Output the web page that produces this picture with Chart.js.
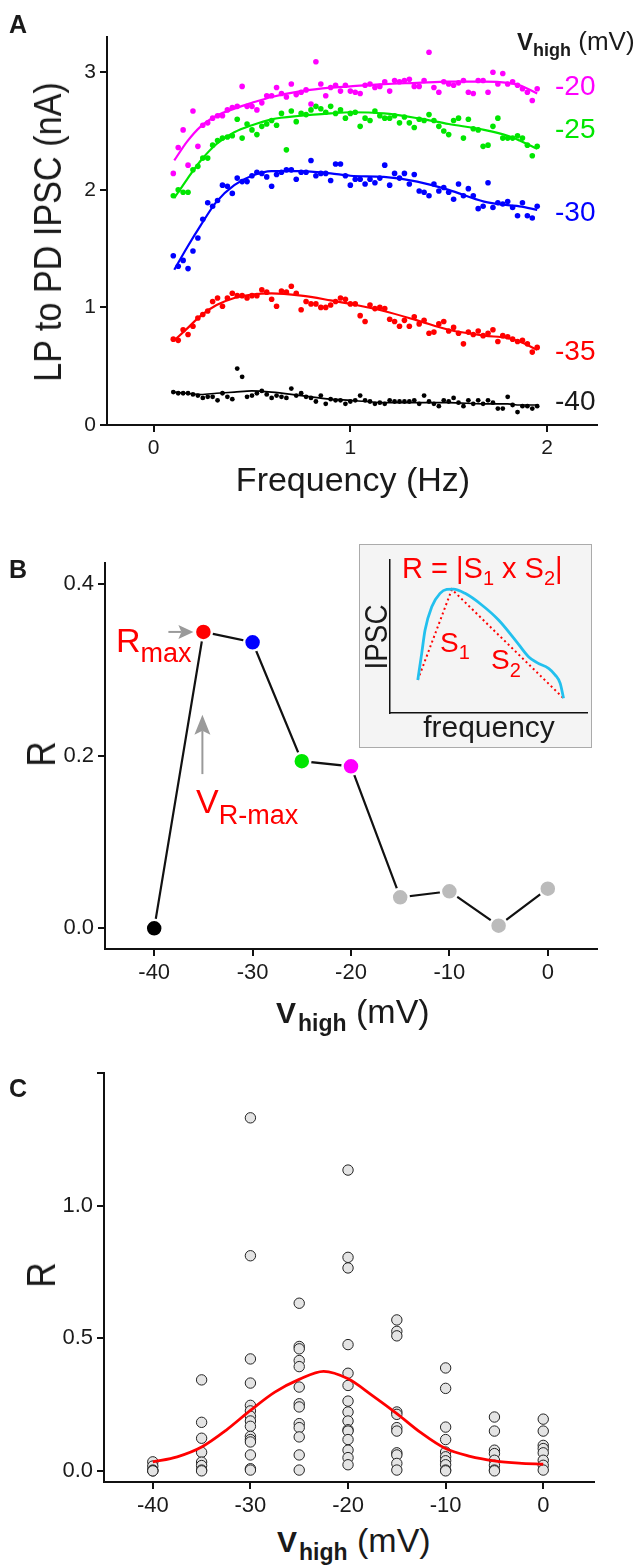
<!DOCTYPE html>
<html>
<head>
<meta charset="utf-8">
<script src="https://cdn.jsdelivr.net/npm/chart.js"></script>
<style>
  html, body { margin: 0; padding: 0; background: #fff; }
  #fig { position: relative; width: 636px; height: 1565px; overflow: hidden;
         font-family: "Liberation Sans", Arial, Helvetica, sans-serif; color: #1a1a1a; }
  canvas { position: absolute; left: 0; }
  .t { position: absolute; white-space: nowrap; line-height: 1; }
  .red { color: #ff0000; }
  #insetBox { position: absolute; left: 359px; top: 544px; width: 233px; height: 204px;
              background: #f4f4f4; border: 1.5px solid #ababab; box-sizing: border-box; }
</style>
</head>
<body>
<div id="fig">
  <canvas id="chartA" width="636" height="470" style="top:0"></canvas>
  <canvas id="chartB" width="636" height="470" style="top:530px"></canvas>
  <canvas id="chartC" width="636" height="480" style="top:1040px"></canvas>
  <div id="insetBox"></div>
  <canvas id="chartInset" width="233" height="204" style="left:359px;top:544px"></canvas>

  <!-- panel letters -->
  <div class="t" style="left:9px;top:12px;font-size:25px;font-weight:bold">A</div>
  <div class="t" style="left:9px;top:557px;font-size:25px;font-weight:bold">B</div>
  <div class="t" style="left:9px;top:1076px;font-size:25px;font-weight:bold">C</div>

  <!-- panel A titles -->
  <div class="t" style="left:48px;top:232px;font-size:38px;transform:translate(-50%,-50%) rotate(-90deg) scaleX(0.9)">LP to PD IPSC (nA)</div>
  <div class="t" style="left:353px;top:462px;font-size:34px;transform:translateX(-50%)">Frequency (Hz)</div>
  <div class="t" style="left:517px;top:28px;font-size:26px"><b style="font-size:24px">V</b><b style="font-size:18px;position:relative;top:6px">high</b> (mV)</div>
  <div class="t" style="left:555px;top:72px;font-size:28px;color:#ff00ff">-20</div>
  <div class="t" style="left:555px;top:115px;font-size:28px;color:#00e600">-25</div>
  <div class="t" style="left:555px;top:198px;font-size:28px;color:#0000ff">-30</div>
  <div class="t" style="left:555px;top:337px;font-size:28px;color:#ff0000">-35</div>
  <div class="t" style="left:555px;top:387px;font-size:28px">-40</div>

  <!-- panel B titles and notes -->
  <div class="t" style="left:41px;top:754px;font-size:40px;transform:translate(-50%,-50%) rotate(-90deg) scaleX(0.88)">R</div>
  <div class="t" style="left:276px;top:994px;font-size:34px"><b style="font-size:30px">V</b><b style="font-size:23px;position:relative;top:8px;margin-left:2px">high</b> (mV)</div>
  <div class="t red" style="left:116px;top:623px;font-size:34px">R<span style="font-size:27px;position:relative;top:10px">max</span></div>
  <div class="t red" style="left:196px;top:784px;font-size:34px">V<span style="font-size:27px;position:relative;top:11px">R-max</span></div>

  <!-- inset texts -->
  <div class="t red" style="left:402px;top:554px;font-size:29px">R = |S<span style="font-size:20px;position:relative;top:7px">1</span> x S<span style="font-size:20px;position:relative;top:7px">2</span>|</div>
  <div class="t red" style="left:440px;top:629px;font-size:28px">S<span style="font-size:20px;position:relative;top:7px">1</span></div>
  <div class="t red" style="left:491px;top:646px;font-size:28px">S<span style="font-size:20px;position:relative;top:8px">2</span></div>
  <div class="t" style="left:376px;top:637px;font-size:32px;transform:translate(-50%,-50%) rotate(-90deg) scaleX(0.87)">IPSC</div>
  <div class="t" style="left:489px;top:712px;font-size:30px;transform:translateX(-50%)">frequency</div>

  <!-- panel C titles -->
  <div class="t" style="left:41px;top:1275px;font-size:40px;transform:translate(-50%,-50%) rotate(-90deg) scaleX(0.88)">R</div>
  <div class="t" style="left:277px;top:1523px;font-size:34px"><b style="font-size:30px">V</b><b style="font-size:23px;position:relative;top:8px;margin-left:2px">high</b> (mV)</div>
</div>

<script>
// ---------- panel A: IPSC vs frequency ----------
const freqA = [0.1, 0.125, 0.15, 0.175, 0.2, 0.225, 0.25, 0.275, 0.3, 0.325,
  0.35, 0.375, 0.4, 0.425, 0.45, 0.475, 0.5, 0.525, 0.55, 0.575,
  0.6, 0.625, 0.65, 0.675, 0.7, 0.725, 0.75, 0.775, 0.8, 0.825,
  0.85, 0.875, 0.9, 0.925, 0.95, 0.975, 1.0, 1.025, 1.05, 1.075,
  1.1, 1.125, 1.15, 1.175, 1.2, 1.225, 1.25, 1.275, 1.3, 1.325,
  1.35, 1.375, 1.4, 1.425, 1.45, 1.475, 1.5, 1.525, 1.55, 1.575,
  1.6, 1.625, 1.65, 1.675, 1.7, 1.725, 1.75, 1.775, 1.8, 1.825,
  1.85, 1.875, 1.9, 1.925, 1.95];

const ipscM20 = [2.14, 2.36, 2.51, 2.21, 2.67, 2.37, 2.55, 2.57, 2.61, 2.63,
  2.63, 2.68, 2.70, 2.71, 2.88, 2.71, 2.71, 2.68, 2.74, 2.80,
  2.80, 2.87, 2.82, 2.79, 2.90, 2.81, 2.83, 2.85, 2.73, 3.09,
  2.90, 2.80, 2.87, 2.89, 2.84, 2.89, 2.84, 2.83, 2.82, 2.89,
  2.90, 2.87, 2.88, 2.92, 2.84, 2.93, 2.92, 2.93, 2.94, 2.88,
  2.88, 2.93, 3.17, 2.87, 2.83, 2.92, 2.90, 2.89, 2.91, 2.93,
  2.83, 2.82, 2.93, 2.93, 2.83, 3.00, 2.90, 2.99, 2.90, 2.92,
  2.89, 2.86, 2.83, 2.76, 2.86];
const ipscM25 = [1.95, 2.00, 1.98, 1.98, 2.17, 2.20, 2.27, 2.27, 2.38, 2.42,
  2.44, 2.45, 2.46, 2.60, 2.44, 2.56, 2.51, 2.47, 2.54, 2.56,
  2.59, 2.55, 2.65, 2.34, 2.67, 2.58, 2.65, 2.64, 2.68, 2.71,
  2.69, 2.66, 2.71, 2.65, 2.68, 2.61, 2.65, 2.66, 2.54, 2.61,
  2.59, 2.67, 2.63, 2.61, 2.61, 2.63, 2.57, 2.62, 2.57, 2.53,
  2.60, 2.59, 2.64, 2.59, 2.54, 2.50, 2.47, 2.59, 2.61, 2.44,
  2.60, 2.52, 2.51, 2.37, 2.38, 2.54, 2.61, 2.44, 2.44, 2.44,
  2.46, 2.44, 2.38, 2.29, 2.37];
const ipscM30 = [1.44, 1.35, 1.40, 1.33, 1.48, 1.59, 1.75, 1.89, 1.86, 1.91,
  2.04, 2.03, 1.97, 2.10, 2.07, 2.07, 2.12, 2.15, 2.14, 2.11,
  2.03, 2.13, 2.15, 2.17, 2.17, 2.09, 2.15, 2.15, 2.25, 2.12,
  2.14, 2.14, 2.08, 2.22, 2.22, 2.12, 2.04, 2.09, 2.09, 2.05,
  2.09, 2.06, 2.10, 2.21, 2.04, 2.14, 2.10, 2.14, 2.05, 2.13,
  1.99, 1.98, 1.95, 2.05, 1.99, 2.02, 1.98, 1.92, 2.05, 1.95,
  2.01, 1.95, 1.84, 1.86, 2.06, 1.85, 1.89, 1.88, 1.90, 1.85,
  1.78, 1.89, 1.78, 1.76, 1.86];
const ipscM35 = [0.73, 0.72, 0.81, 0.77, 0.84, 0.91, 0.94, 0.97, 1.05, 1.08,
  1.01, 1.08, 1.12, 1.10, 1.10, 1.08, 1.10, 1.10, 1.15, 1.13,
  1.07, 1.01, 1.14, 1.13, 1.18, 1.12, 0.98, 1.05, 1.03, 1.03,
  1.00, 1.00, 1.02, 1.05, 1.08, 1.07, 1.03, 1.03, 0.93, 0.88,
  1.02, 0.99, 1.00, 0.99, 0.90, 0.88, 0.84, 0.89, 0.84, 0.92,
  0.86, 0.89, 0.78, 0.79, 0.86, 0.88, 0.80, 0.83, 0.78, 0.69,
  0.79, 0.77, 0.80, 0.76, 0.78, 0.81, 0.71, 0.76, 0.75, 0.73,
  0.71, 0.72, 0.69, 0.62, 0.66];
const ipscM40 = [0.28, 0.27, 0.27, 0.27, 0.26, 0.25, 0.23, 0.24, 0.24, 0.21,
  0.27, 0.24, 0.22, 0.48, 0.41, 0.24, 0.25, 0.27, 0.29, 0.26,
  0.23, 0.25, 0.24, 0.23, 0.31, 0.25, 0.27, 0.24, 0.23, 0.20,
  0.25, 0.18, 0.22, 0.21, 0.21, 0.18, 0.20, 0.21, 0.25, 0.21,
  0.20, 0.18, 0.19, 0.18, 0.21, 0.20, 0.20, 0.20, 0.20, 0.21,
  0.18, 0.25, 0.20, 0.18, 0.16, 0.21, 0.20, 0.23, 0.19, 0.16,
  0.21, 0.18, 0.21, 0.18, 0.21, 0.19, 0.14, 0.14, 0.24, 0.17,
  0.11, 0.16, 0.16, 0.14, 0.16];

// smooth fitted curves, read at these frequencies
const fitFreqA = [0.105, 0.17, 0.24, 0.32, 0.41, 0.5, 0.6, 0.75, 0.9, 1.0, 1.17, 1.34, 1.5, 1.68, 1.8, 1.86, 1.95];
const fitM20 = [2.25, 2.41, 2.54, 2.63, 2.69, 2.74, 2.79, 2.84, 2.87, 2.88, 2.90, 2.91, 2.92, 2.92, 2.91, 2.89, 2.82];
const fitM25 = [1.93, 2.09, 2.25, 2.39, 2.49, 2.55, 2.60, 2.63, 2.65, 2.66, 2.65, 2.61, 2.56, 2.51, 2.46, 2.42, 2.35];
const fitM30 = [1.32, 1.51, 1.70, 1.90, 2.04, 2.12, 2.16, 2.16, 2.14, 2.12, 2.11, 2.07, 2.00, 1.90, 1.87, 1.86, 1.83];
const fitM35 = [0.72, 0.82, 0.93, 1.02, 1.08, 1.11, 1.12, 1.10, 1.06, 1.03, 0.97, 0.89, 0.81, 0.76, 0.74, 0.71, 0.64];
const fitM40 = [0.28, 0.27, 0.26, 0.27, 0.28, 0.29, 0.28, 0.25, 0.22, 0.21, 0.19, 0.19, 0.19, 0.18, 0.18, 0.17, 0.17];

const colorsA = ['#ff00ff', '#00e600', '#0000ff', '#ff0000', '#000000'];
const xTicksA = [0, 1, 2];
const yTicksA = [0, 1, 2, 3];

// ---------- panel B: R vs Vhigh (one prep) ----------
const vHighB = [-40, -35, -30, -25, -20, -15, -10, -5, 0];
const rB = [0.0, 0.344, 0.332, 0.194, 0.188, 0.036, 0.043, 0.003, 0.046];
const colorsB = ['#000000', '#ff0000', '#0000ff', '#00e600', '#ff00ff', '#bbbbbb', '#bbbbbb', '#bbbbbb', '#bbbbbb'];
const xTicksB = [-40, -30, -20, -10, 0];
const yTicksB = [0, 0.2, 0.4];

// inset schematic
const insetCurveX = [0.141, 0.161, 0.178, 0.212, 0.254, 0.288, 0.322, 0.381, 0.466, 0.551, 0.636, 0.703, 0.746, 0.805, 0.839, 0.864, 0.881];
const insetCurveY = [0.216, 0.39, 0.542, 0.695, 0.782, 0.808, 0.810, 0.782, 0.706, 0.608, 0.477, 0.368, 0.329, 0.292, 0.248, 0.194, 0.096];
const insetSlopeX = [0.141, 0.314, 0.881];
const insetSlopeY = [0.216, 0.808, 0.096];

// ---------- panel C: R vs Vhigh (all preps) ----------
const vHighC = [-40, -35, -30, -25, -20, -15, -10, -5, 0];
const rCm40 = [0.034, 0.018, 0.003, 0.0, 0.0];
const rCm35 = [0.343, 0.183, 0.123, 0.070, 0.033, 0.020, 0.003, 0.0];
const rCm30 = [1.331, 0.811, 0.422, 0.331, 0.247, 0.226, 0.206, 0.188, 0.168, 0.130, 0.118, 0.109, 0.060, 0.008, 0.003];
const rCm25 = [0.632, 0.469, 0.460, 0.416, 0.393, 0.316, 0.253, 0.241, 0.178, 0.163, 0.128, 0.060, 0.003];
const rCm20 = [1.134, 0.805, 0.765, 0.476, 0.368, 0.322, 0.263, 0.222, 0.188, 0.155, 0.150, 0.118, 0.078, 0.050, 0.023];
const rCm15 = [0.569, 0.526, 0.509, 0.222, 0.213, 0.163, 0.150, 0.068, 0.060, 0.028, 0.003];
const rCm10 = [0.388, 0.311, 0.165, 0.118, 0.071, 0.053, 0.038, 0.023, 0.003, 0.0];
const rCm5 = [0.203, 0.150, 0.078, 0.065, 0.040, 0.021, 0.003, 0.0];
const rC0 = [0.195, 0.150, 0.096, 0.084, 0.068, 0.040, 0.021, 0.003];
const fitVC = [-40, -37.5, -35, -32.5, -30, -27.5, -25, -22.5, -20, -17.5, -15, -12.5, -10, -7.5, -5, -2.5, 0];
const fitRC = [0.034, 0.053, 0.090, 0.153, 0.228, 0.297, 0.345, 0.375, 0.347, 0.284, 0.216, 0.143, 0.084, 0.055, 0.038, 0.029, 0.025];
const xTicksC = [-40, -30, -20, -10, 0];
const yTicksC = [0, 0.5, 1.0, 1.5];

Chart.defaults.font.family = "'Liberation Sans', Arial, Helvetica, sans-serif";
Chart.defaults.color = '#1a1a1a';
Chart.defaults.animation = false;

const pts = (xs, ys) => xs.map((x, i) => ({ x: x, y: ys[i] }));

function axis(min, max, ticks, fmt, size, fit) {
    return {
        type: 'linear', min: min, max: max,
        afterBuildTicks: s => { s.ticks = ticks.map(v => ({ value: v })); },
        afterFit: fit,
        ticks: { callback: fmt, font: { size: size }, padding: 4, color: '#1a1a1a', autoSkip: false, maxRotation: 0 },
        grid: { drawOnChartArea: false, drawTicks: true, tickLength: 7, color: '#111', lineWidth: 2 },
        border: { display: true, color: '#111', width: 2 }
    };
}

const baseOpts = (padding, scales) => ({
    responsive: false,
    events: [],
    layout: { padding: padding },
    plugins: { legend: { display: false }, tooltip: { enabled: false } },
    scales: scales
});

// panel A
const dotsA = [ipscM20, ipscM25, ipscM30, ipscM35, ipscM40];
const fitsA = [fitM20, fitM25, fitM30, fitM35, fitM40];
const dsA = [];
fitsA.forEach((f, k) => dsA.push({
    type: 'line', data: pts(fitFreqA, f), borderColor: colorsA[k], borderWidth: k == 4 ? 1.6 : 2.2,
    pointRadius: 0, cubicInterpolationMode: 'monotone', fill: false, order: 0, clip: false
}));
dotsA.forEach((d, k) => dsA.push({
    type: 'scatter', data: pts(freqA, d), backgroundColor: colorsA[k], borderWidth: 0,
    pointRadius: k == 4 ? 2.4 : 2.8, order: 1, clip: false
}));

new Chart(document.getElementById('chartA').getContext('2d'), {
    type: 'scatter',
    data: { datasets: dsA },
    options: baseOpts({ left: 0, right: 39, top: 37, bottom: 0 }, {
        x: axis(-0.237, 2.254, xTicksA, v => String(v), 21, s => { s.height = 45; }),
        y: axis(0, 3.3, yTicksA, v => String(v), 21, s => { s.width = 107; })
    })
});

// panel B
const arrowPlugin = {
    id: 'arrows',
    afterDatasetsDraw(chart) {
        const { ctx, scales: { x, y } } = chart;
        const px = x.getPixelForValue(vHighB[1]);
        const py = y.getPixelForValue(rB[1]);
        ctx.save();
        ctx.fillStyle = '#9a9a9a';
        ctx.strokeStyle = '#9a9a9a';
        ctx.lineWidth = 2;
        // arrow pointing at R max
        ctx.beginPath(); ctx.moveTo(px - 35, py); ctx.lineTo(px - 22, py); ctx.stroke();
        ctx.beginPath(); ctx.moveTo(px - 10, py); ctx.lineTo(px - 25, py - 7); ctx.lineTo(px - 22, py);
        ctx.lineTo(px - 25, py + 7); ctx.closePath(); ctx.fill();
        // arrow pointing up at V R-max
        const ax = px - 1;
        const tip = y.getPixelForValue(0.248), bot = y.getPixelForValue(0.179);
        ctx.beginPath(); ctx.moveTo(ax, bot); ctx.lineTo(ax, tip + 16); ctx.stroke();
        ctx.beginPath(); ctx.moveTo(ax, tip); ctx.lineTo(ax - 8, tip + 20); ctx.lineTo(ax, tip + 16);
        ctx.lineTo(ax + 8, tip + 20); ctx.closePath(); ctx.fill();
        ctx.restore();
    }
};

new Chart(document.getElementById('chartB').getContext('2d'), {
    type: 'line',
    data: { datasets: [{
        data: pts(vHighB, rB), borderColor: '#111', borderWidth: 2.2,
        pointBackgroundColor: colorsB, pointBorderColor: '#ffffff', pointBorderWidth: 2.5,
        pointRadius: 8.5, tension: 0, clip: false
    }] },
    options: baseOpts({ left: 0, right: 39, top: 33, bottom: 0 }, {
        x: axis(-45, 5, xTicksB, v => String(v), 22, s => { s.height = 51; }),
        y: axis(-0.024, 0.424, yTicksB, v => v.toFixed(1), 22, s => { s.width = 105; })
    }),
    plugins: [arrowPlugin]
});

// inset
const insetAxis = (fit) => ({
    type: 'linear', min: 0, max: 1, afterFit: fit,
    ticks: { display: false },
    grid: { display: false, drawTicks: false },
    border: { display: true, color: '#111', width: 1.5 }
});
new Chart(document.getElementById('chartInset').getContext('2d'), {
    type: 'scatter',
    data: { datasets: [
        { type: 'line', data: pts(insetSlopeX, insetSlopeY), borderColor: '#ff0000', borderWidth: 2,
          borderDash: [2, 3], pointRadius: 0, tension: 0, order: 1, clip: false },
        { type: 'line', data: pts(insetCurveX, insetCurveY), borderColor: '#22c0ee', borderWidth: 2.8,
          pointRadius: 0, cubicInterpolationMode: 'monotone', order: 0, clip: false }
    ] },
    options: baseOpts({ left: 31, right: 5, top: 16, bottom: 35 }, {
        x: insetAxis(s => { s.height = 0; }),
        y: insetAxis(s => { s.width = 0; })
    })
});

// panel C
const rC = [rCm40, rCm35, rCm30, rCm25, rCm20, rCm15, rCm10, rCm5, rC0];
const scatterC = [];
vHighC.forEach((v, k) => rC[k].forEach(r => scatterC.push({ x: v, y: r })));

new Chart(document.getElementById('chartC').getContext('2d'), {
    type: 'scatter',
    data: { datasets: [
        { type: 'line', data: pts(fitVC, fitRC), borderColor: '#ff0000', borderWidth: 2.8,
          pointRadius: 0, cubicInterpolationMode: 'monotone', order: 0, clip: false },
        { type: 'scatter', data: scatterC, backgroundColor: '#e4e4e4', borderColor: '#222',
          borderWidth: 1, pointRadius: 5.2, order: 1, clip: false }
    ] },
    options: baseOpts({ left: 0, right: 42, top: 33, bottom: 0 }, {
        x: axis(-45, 5.2, xTicksC, v => String(v), 22, s => { s.height = 38; }),
        y: axis(-0.042, 1.5, yTicksC, v => (v === 1.5 ? '' : v.toFixed(1)), 22, s => { s.width = 104; })
    })
});
</script>
</body>
</html>
